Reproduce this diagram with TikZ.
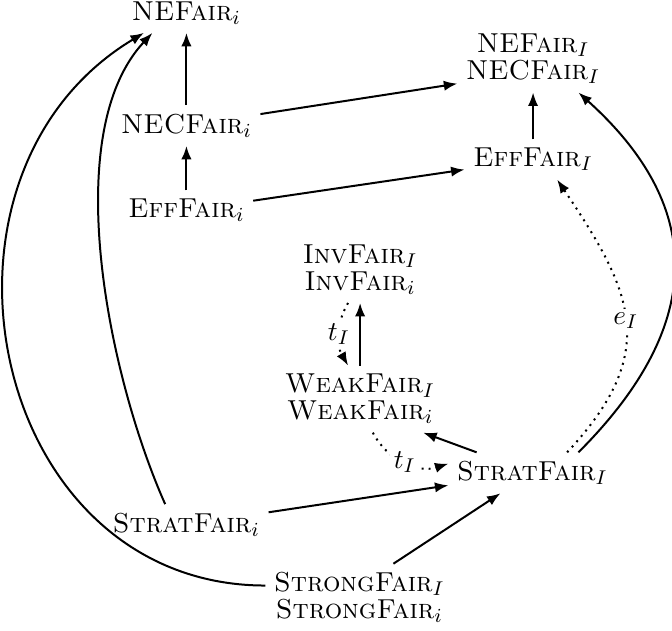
\documentclass[tikz,border=0pt]{standalone}
\usepackage{amsmath}
\usetikzlibrary{arrows.meta}
\tikzset{
    fair node/.style={
        align=center,
        inner sep=3.3pt,
        font=\fontsize{11}{10.8}\selectfont
    },
    fair arrow/.style={-{Latex[length=1.9mm,width=1.45mm]}, thick},
    fair map/.style={-{Latex[length=1.9mm,width=1.45mm]}, thick, dotted},
    fair label/.style={fill=white, inner sep=1.5pt, font=\fontsize{11}{10.8}\selectfont}
}

\begin{document}
\begin{tikzpicture}[x=1cm,y=1cm]
    \useasboundingbox (0,0) rectangle (9.48,-8.89);

    \node[fair node] (nefi) at (2.63,-0.18) {\textsc{NEFair}$_i$};
    \node[fair node] (necfi) at (2.63,-1.77) {\textsc{NECFair}$_i$};
    \node[fair node] (effi) at (2.63,-2.97) {\textsc{EffFair}$_i$};
    \node[fair node] (neI) at (7.52,-0.83) {\textsc{NEFair}$_I$\\\textsc{NECFair}$_I$};
    \node[fair node] (effI) at (7.52,-2.25) {\textsc{EffFair}$_I$};
    \node[fair node] (inv) at (5.08,-3.80) {\textsc{InvFair}$_I$\\\textsc{InvFair}$_i$};
    \node[fair node] (weak) at (5.08,-5.63) {\textsc{WeakFair}$_I$\\\textsc{WeakFair}$_i$};
    \node[fair node] (stratI) at (7.51,-6.67) {\textsc{StratFair}$_I$};
    \node[fair node] (strati) at (2.63,-7.40) {\textsc{StratFair}$_i$};
    \node[fair node] (strong) at (5.07,-8.43) {\textsc{StrongFair}$_I$\\\textsc{StrongFair}$_i$};

    \draw[fair arrow] (effi) -- (necfi);
    \draw[fair arrow] (necfi) -- (nefi);
    \draw[fair arrow] (necfi) -- ([yshift=-0.35cm]neI.west);
    \draw[fair arrow] (effi) -- (effI);
    \draw[fair arrow] (effI) -- (neI);
    \draw[fair arrow] (weak) -- (inv);
    \draw[fair map] ([xshift=-0.17cm]inv.south) to[bend right=30] node[fair label] {$t_I$} ([xshift=-0.17cm]weak.north);
    \draw[fair arrow] (stratI) -- ([xshift=0.89cm]weak.south);
    \draw[fair map] ([xshift=0.18cm]weak.south) to[bend right=40] node[fair label] {$t_I$} ([yshift=0.13cm]stratI.west);
    \draw[fair arrow] (strati) -- (stratI);
    \draw[fair arrow] ([xshift=0.48cm]strong.north) -- ([xshift=-0.45cm]stratI.south);
    \draw[fair map] ([xshift=0.49cm]stratI.north) to[out=47,in=-56,looseness=1.28] node[fair label] {$e_I$} ([xshift=0.34cm]effI.south);
    \draw[fair arrow] ([xshift=0.65cm]stratI.north) to[out=45,in=-42,looseness=1.25] ([xshift=0.64cm]neI.south);
    \draw[fair arrow] ([xshift=-0.3cm]strati.north) to[out=114,in=227,looseness=0.75] ([xshift=-0.48cm]nefi.south);
    \draw[fair arrow] ([yshift=0.17cm]strong.west) to[out=180,in=211,looseness=1.25] ([xshift=-0.6cm]nefi.south);
\end{tikzpicture}
\end{document}
